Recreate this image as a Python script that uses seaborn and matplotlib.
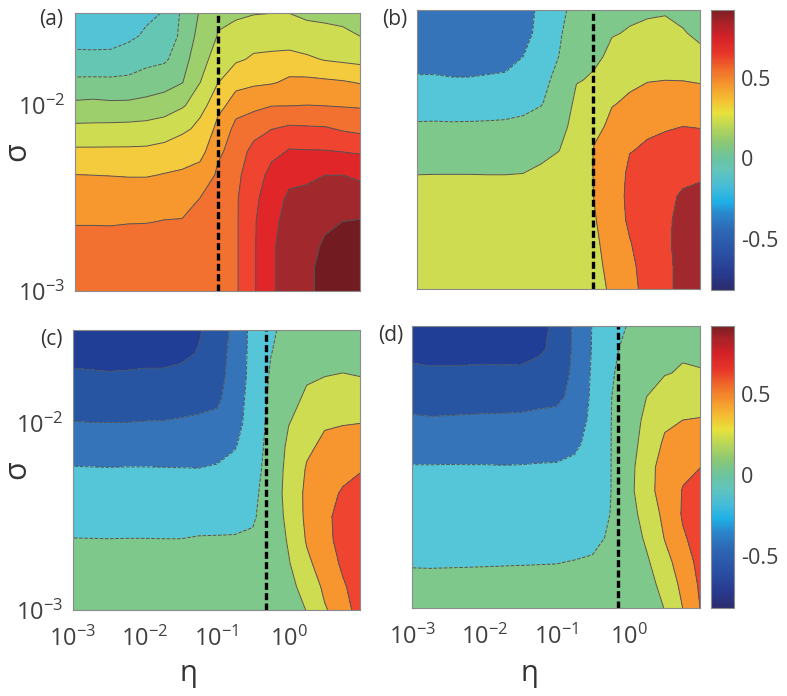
import numpy as np
import matplotlib
matplotlib.use("Agg")
import matplotlib.pyplot as plt
import seaborn as sns
from matplotlib.colors import LinearSegmentedColormap, Normalize
from matplotlib.cm import ScalarMappable
from matplotlib.ticker import LogLocator, NullFormatter

sns.set_theme(style="ticks")
plt.rcParams['font.family'] = ['Open Sans', 'DejaVu Sans']
plt.rcParams['mathtext.default'] = 'regular'

# ---------------- data ----------------
log_eta = [-3.0, -2.75, -2.5, -2.25, -2.0, -1.75, -1.5, -1.25, -1.0,
           -0.75, -0.5, -0.25, 0.0, 0.25, 0.5, 0.75, 1.0]
# rows listed from top (sigma = 10^-1.5) to bottom (sigma = 10^-3)
log_sigma = [-1.5, -1.625, -1.75, -1.875, -2.0, -2.125, -2.25, -2.375,
             -2.5, -2.625, -2.75, -2.875, -3.0]

Z_a = [
    [-0.32, -0.32, -0.32, -0.30, -0.23, -0.19, -0.08, 0.01, 0.08, 0.085, 0.095, 0.099, 0.099, 0.08, 0.075, 0.07, 0.065],
    [-0.25, -0.25, -0.25, -0.22, -0.179, -0.185, -0.06, 0.035, 0.105, 0.129, 0.15, 0.156, 0.155, 0.137, 0.128, 0.118, 0.099],
    [-0.167, -0.17, -0.167, -0.152, -0.127, -0.115, -0.032, 0.065, 0.152, 0.186, 0.215, 0.22, 0.226, 0.214, 0.193, 0.18, 0.168],
    [-0.082, -0.08, -0.082, -0.079, -0.06, -0.04, -0.003, 0.099, 0.198, 0.265, 0.283, 0.292, 0.321, 0.323, 0.317, 0.309, 0.293],
    [0.021, 0.027, 0.02, 0.021, 0.032, 0.049, 0.089, 0.167, 0.27, 0.352, 0.376, 0.398, 0.399, 0.402, 0.399, 0.394, 0.39],
    [0.121, 0.122, 0.125, 0.128, 0.132, 0.147, 0.181, 0.226, 0.33, 0.43, 0.46, 0.498, 0.516, 0.512, 0.509, 0.488, 0.472],
    [0.218, 0.218, 0.218, 0.218, 0.22, 0.232, 0.252, 0.275, 0.38, 0.46, 0.53, 0.573, 0.611, 0.608, 0.607, 0.60, 0.59],
    [0.302, 0.30, 0.298, 0.295, 0.295, 0.305, 0.314, 0.33, 0.42, 0.48, 0.56, 0.63, 0.665, 0.677, 0.70, 0.70, 0.681],
    [0.347, 0.347, 0.345, 0.346, 0.346, 0.354, 0.361, 0.401, 0.44, 0.49, 0.58, 0.66, 0.72, 0.73, 0.742, 0.749, 0.746],
    [0.393, 0.393, 0.392, 0.396, 0.397, 0.403, 0.405, 0.41, 0.45, 0.49, 0.59, 0.68, 0.735, 0.76, 0.784, 0.80, 0.805],
    [0.43, 0.43, 0.43, 0.43, 0.43, 0.43, 0.43, 0.43, 0.46, 0.49, 0.59, 0.69, 0.74, 0.78, 0.81, 0.83, 0.83],
    [0.44, 0.44, 0.44, 0.44, 0.44, 0.44, 0.44, 0.44, 0.46, 0.49, 0.59, 0.69, 0.74, 0.79, 0.82, 0.85, 0.85],
    [0.44, 0.44, 0.44, 0.44, 0.44, 0.44, 0.44, 0.44, 0.46, 0.49, 0.59, 0.69, 0.74, 0.79, 0.82, 0.85, 0.85],
]

Z_b = [
    [-0.45, -0.45, -0.45, -0.45, -0.45, -0.45, -0.44, -0.20, -0.15, -0.02, 0.0, 0.04, 0.06, 0.07, 0.08, 0.06, 0.02],
    [-0.42, -0.42, -0.42, -0.42, -0.42, -0.42, -0.40, -0.18, -0.12, 0.01, 0.04, 0.09, 0.115, 0.143, 0.153, 0.11, 0.06],
    [-0.38, -0.38, -0.385, -0.385, -0.38, -0.37, -0.30, -0.16, -0.10, 0.05, 0.07, 0.14, 0.19, 0.217, 0.226, 0.203, 0.14],
    [-0.28, -0.28, -0.29, -0.29, -0.28, -0.27, -0.223, -0.14, -0.052, 0.09, 0.12, 0.22, 0.26, 0.29, 0.298, 0.295, 0.28],
    [-0.18, -0.18, -0.185, -0.185, -0.18, -0.17, -0.146, -0.11, -0.003, 0.14, 0.20, 0.29, 0.33, 0.373, 0.39, 0.398, 0.387],
    [-0.082, -0.08, -0.082, -0.08, -0.078, -0.075, -0.066, -0.042, 0.046, 0.17, 0.26, 0.34, 0.41, 0.457, 0.483, 0.50, 0.49],
    [0.007, 0.01, 0.008, 0.01, 0.01, 0.01, 0.016, 0.044, 0.096, 0.19, 0.31, 0.38, 0.49, 0.53, 0.55, 0.575, 0.583],
    [0.096, 0.097, 0.097, 0.097, 0.096, 0.096, 0.099, 0.13, 0.14, 0.20, 0.31, 0.40, 0.54, 0.58, 0.62, 0.65, 0.67],
    [0.14, 0.14, 0.14, 0.14, 0.14, 0.14, 0.14, 0.16, 0.16, 0.21, 0.305, 0.40, 0.56, 0.62, 0.67, 0.72, 0.74],
    [0.17, 0.17, 0.17, 0.17, 0.17, 0.17, 0.17, 0.18, 0.18, 0.21, 0.29, 0.40, 0.54, 0.63, 0.68, 0.74, 0.76],
    [0.19, 0.19, 0.19, 0.19, 0.19, 0.19, 0.19, 0.19, 0.19, 0.21, 0.27, 0.39, 0.49, 0.63, 0.68, 0.75, 0.77],
    [0.20, 0.20, 0.20, 0.20, 0.20, 0.20, 0.20, 0.20, 0.20, 0.21, 0.25, 0.37, 0.45, 0.62, 0.67, 0.75, 0.77],
    [0.20, 0.20, 0.20, 0.20, 0.20, 0.20, 0.20, 0.20, 0.20, 0.21, 0.23, 0.34, 0.42, 0.61, 0.67, 0.75, 0.77],
]

Z_c = [
    [-0.78, -0.78, -0.78, -0.78, -0.78, -0.78, -0.77, -0.72, -0.58, -0.45, -0.22, -0.13, -0.02, 0.0, 0.02, 0.03, 0.03],
    [-0.74, -0.74, -0.74, -0.745, -0.74, -0.74, -0.73, -0.69, -0.57, -0.43, -0.22, -0.105, 0.0, 0.03, 0.06, 0.07, 0.06],
    [-0.68, -0.685, -0.69, -0.685, -0.68, -0.68, -0.667, -0.62, -0.56, -0.41, -0.22, -0.08, 0.03, 0.08, 0.10, 0.105, 0.10],
    [-0.587, -0.59, -0.595, -0.59, -0.585, -0.587, -0.575, -0.549, -0.53, -0.38, -0.21, -0.06, 0.06, 0.13, 0.17, 0.20, 0.20],
    [-0.492, -0.497, -0.497, -0.497, -0.492, -0.49, -0.48, -0.472, -0.455, -0.36, -0.20, -0.04, 0.095, 0.20, 0.27, 0.29, 0.30],
    [-0.385, -0.39, -0.39, -0.39, -0.388, -0.385, -0.385, -0.382, -0.365, -0.31, -0.19, -0.02, 0.14, 0.26, 0.36, 0.38, 0.40],
    [-0.286, -0.288, -0.29, -0.288, -0.288, -0.29, -0.292, -0.294, -0.281, -0.254, -0.17, 0.0, 0.16, 0.32, 0.41, 0.44, 0.49],
    [-0.223, -0.225, -0.226, -0.225, -0.225, -0.227, -0.228, -0.223, -0.213, -0.196, -0.14, 0.01, 0.17, 0.35, 0.45, 0.52, 0.57],
    [-0.159, -0.16, -0.162, -0.16, -0.16, -0.162, -0.163, -0.153, -0.146, -0.138, -0.12, 0.01, 0.15, 0.35, 0.47, 0.56, 0.61],
    [-0.095, -0.096, -0.097, -0.096, -0.096, -0.097, -0.097, -0.09, -0.09, -0.09, -0.08, 0.0, 0.12, 0.32, 0.46, 0.56, 0.62],
    [-0.06, -0.06, -0.06, -0.06, -0.06, -0.06, -0.06, -0.06, -0.06, -0.06, -0.06, -0.01, 0.09, 0.26, 0.42, 0.53, 0.62],
    [-0.04, -0.04, -0.04, -0.04, -0.04, -0.04, -0.04, -0.04, -0.04, -0.04, -0.04, -0.02, 0.06, 0.17, 0.35, 0.48, 0.60],
    [-0.03, -0.03, -0.03, -0.03, -0.03, -0.03, -0.03, -0.03, -0.03, -0.03, -0.03, -0.02, 0.04, 0.105, 0.28, 0.44, 0.58],
]

Z_d = [
    [-0.78, -0.78, -0.78, -0.78, -0.78, -0.78, -0.78, -0.76, -0.64, -0.46, -0.29, -0.15, -0.09, 0.0, 0.02, 0.03, 0.02],
    [-0.75, -0.74, -0.74, -0.745, -0.75, -0.75, -0.745, -0.73, -0.64, -0.46, -0.285, -0.13, -0.05, 0.03, 0.05, 0.07, 0.06],
    [-0.668, -0.685, -0.685, -0.68, -0.675, -0.676, -0.68, -0.639, -0.60, -0.45, -0.27, -0.115, -0.03, 0.06, 0.09, 0.12, 0.11],
    [-0.573, -0.585, -0.585, -0.58, -0.575, -0.573, -0.574, -0.55, -0.54, -0.43, -0.26, -0.105, -0.01, 0.10, 0.17, 0.20, 0.21],
    [-0.479, -0.486, -0.483, -0.478, -0.476, -0.474, -0.47, -0.461, -0.452, -0.39, -0.245, -0.103, 0.0, 0.16, 0.26, 0.30, 0.31],
    [-0.381, -0.383, -0.381, -0.38, -0.378, -0.38, -0.381, -0.369, -0.363, -0.33, -0.23, -0.103, 0.02, 0.20, 0.33, 0.39, 0.41],
    [-0.292, -0.292, -0.291, -0.292, -0.292, -0.294, -0.292, -0.288, -0.286, -0.27, -0.21, -0.103, 0.04, 0.25, 0.37, 0.45, 0.50],
    [-0.247, -0.247, -0.246, -0.247, -0.247, -0.247, -0.246, -0.242, -0.241, -0.227, -0.185, -0.103, 0.05, 0.25, 0.38, 0.51, 0.57],
    [-0.20, -0.20, -0.20, -0.20, -0.20, -0.20, -0.20, -0.196, -0.195, -0.184, -0.16, -0.097, 0.04, 0.18, 0.36, 0.52, 0.60],
    [-0.155, -0.155, -0.155, -0.155, -0.155, -0.155, -0.155, -0.15, -0.15, -0.141, -0.13, -0.08, 0.02, 0.13, 0.31, 0.48, 0.59],
    [-0.109, -0.11, -0.109, -0.108, -0.107, -0.106, -0.105, -0.104, -0.103, -0.098, -0.09, -0.06, 0.0, 0.08, 0.24, 0.42, 0.57],
    [-0.08, -0.08, -0.08, -0.08, -0.08, -0.08, -0.08, -0.08, -0.08, -0.075, -0.07, -0.05, -0.01, 0.04, 0.17, 0.36, 0.54],
    [-0.06, -0.06, -0.06, -0.06, -0.06, -0.06, -0.06, -0.06, -0.06, -0.06, -0.06, -0.04, -0.02, 0.02, 0.105, 0.30, 0.51],
]

# critical eta (dashed lines)
eta_crit = {"a": 0.1, "b": 0.3, "c": 0.49, "d": 0.72}
panel_labels = ["(a)", "(b)", "(c)", "(d)"]

levels_a = [-1.0, -0.2, -0.1, 0.0, 0.1, 0.2, 0.3, 0.4, 0.5, 0.6, 0.7, 0.8, 1.0]
colors_a = ['#55c3d6', '#66c6b4', '#7fc88c', '#9dcf6c', '#cddc50', '#f3cb3c',
            '#f7982e', '#f27131', '#ee4430', '#e1262a', '#a1282d', '#721c21']
levels_bcd = [-1.0, -0.7, -0.5, -0.3, -0.1, 0.1, 0.3, 0.5, 0.7, 1.0]
colors_bcd = ['#213e96', '#2855a2', '#3574b8', '#55c5d8', '#7fc88c', '#cddc50',
              '#f7962e', '#ee4430', '#a1282d']

cbar_range = (-0.82, 0.92)
cbar_ticks = [-0.5, 0.0, 0.5]
cbar_labels = ["-0.5", "0", "0.5"]
cmap_vals = [-0.82, -0.72, -0.6, -0.45, -0.35, -0.27, -0.18, -0.08, 0.0, 0.1, 0.2,
             0.28, 0.36, 0.45, 0.55, 0.65, 0.75, 0.85, 0.92]
cmap_cols = ['#2b2c6e', '#283a8e', '#2a4fa2', '#2d68b4', '#2a86cc', '#1eb0e6', '#45bcd8',
             '#62c4bc', '#6cc49e', '#8cc874', '#bcd656', '#e6e23c', '#f4c033', '#f59a2e',
             '#f06e2a', '#e8362a', '#d42228', '#a52228', '#7a1e22']

# ---------------- figure ----------------
W, H = 787, 696
fig = plt.figure(figsize=(W / 100, H / 100), dpi=100)
fig.patch.set_facecolor('white')


def add_ax(x0, y0, x1, y1):
    return fig.add_axes([x0 / W, 1 - y1 / H, (x1 - x0) / W, (y1 - y0) / H])


ax_a = add_ax(75, 13, 360, 291)
ax_b = add_ax(416.7, 10, 700, 289.3)
ax_c = add_ax(72.7, 330, 360, 610)
ax_d = add_ax(412.3, 326, 700, 608.3)
cax1 = add_ax(711, 10, 734.3, 290)
cax2 = add_ax(711, 326, 734.3, 608.3)

eta = 10 ** np.array(log_eta)
sigma = 10 ** np.array(log_sigma)[::-1]

tick_col = '#404040'
spine_col = '#8a8a8a'


def draw(ax, Z, levels, colors, xcrit, show_x, show_y):
    Zarr = np.array(Z)[::-1]
    ax.set_xscale('log')
    ax.set_yscale('log')
    ax.contourf(eta, sigma, Zarr, levels=levels, colors=colors)
    ax.contour(eta, sigma, Zarr, levels=levels[1:-1], colors='#555555', linewidths=0.7)
    ax.axvline(xcrit, color='black', lw=2.4, dashes=(2.1, 1.0))
    ax.set_xlim(1e-3, 10 ** 0.99)
    ax.set_ylim(1e-3, 10 ** -1.5)
    for a in (ax.xaxis, ax.yaxis):
        a.set_major_locator(LogLocator(base=10, numticks=10))
        a.set_minor_locator(LogLocator(base=10, subs=np.arange(2, 10), numticks=10))
        a.set_minor_formatter(NullFormatter())
    ax.tick_params(which='both', direction='in', top=True, right=True,
                   color=spine_col, width=0.6)
    ax.tick_params(which='major', length=4)
    ax.tick_params(which='minor', length=2)
    ax.tick_params(axis='x', which='major', pad=12, labelsize=17, labelcolor=tick_col,
                   labelbottom=show_x)
    ax.tick_params(axis='y', which='major', pad=7, labelsize=17, labelcolor=tick_col,
                   labelleft=show_y)
    for s in ax.spines.values():
        s.set_edgecolor(spine_col)
        s.set_linewidth(0.8)


draw(ax_a, Z_a, levels_a, colors_a, eta_crit["a"], False, True)
draw(ax_b, Z_b, levels_bcd, colors_bcd, eta_crit["b"], False, False)
draw(ax_c, Z_c, levels_bcd, colors_bcd, eta_crit["c"], True, True)
draw(ax_d, Z_d, levels_bcd, colors_bcd, eta_crit["d"], True, False)

cmap = LinearSegmentedColormap.from_list(
    'custom_jet',
    [((v - cbar_range[0]) / (cbar_range[1] - cbar_range[0]), c) for v, c in zip(cmap_vals, cmap_cols)])
norm = Normalize(vmin=cbar_range[0], vmax=cbar_range[1])
sm = ScalarMappable(norm=norm, cmap=cmap)
for cax in (cax1, cax2):
    cb = fig.colorbar(sm, cax=cax, ticks=cbar_ticks)
    cb.ax.set_yticklabels(cbar_labels)
    cb.outline.set_edgecolor(spine_col)
    cb.outline.set_linewidth(0.8)
    cb.ax.tick_params(direction='in', length=3, width=0.6, color=spine_col,
                      labelsize=15.5, labelcolor=tick_col, pad=5)
    cb.ax.minorticks_off()

# panel labels
fig.text(63 / W, 1 - 20 / H, panel_labels[0], ha='right', va='center', fontsize=15, color='#333333')
fig.text(407 / W, 1 - 20 / H, panel_labels[1], ha='right', va='center', fontsize=15, color='#333333')
fig.text(63 / W, 1 - 340 / H, panel_labels[2], ha='right', va='center', fontsize=15, color='#333333')
fig.text(403 / W, 1 - 335 / H, panel_labels[3], ha='right', va='center', fontsize=15, color='#333333')

# axis labels
fig.text(17 / W, 1 - 152 / H, 'σ', rotation=90, ha='center', va='center', fontsize=22, color='#333333')
fig.text(17 / W, 1 - 470 / H, 'σ', rotation=90, ha='center', va='center', fontsize=22, color='#333333')
fig.text(188 / W, 1 - 674 / H, 'η', ha='center', va='center', fontsize=21, color='#333333')
fig.text(529 / W, 1 - 674 / H, 'η', ha='center', va='center', fontsize=21, color='#333333')

fig.savefig('out.png', dpi=100, facecolor='white')
